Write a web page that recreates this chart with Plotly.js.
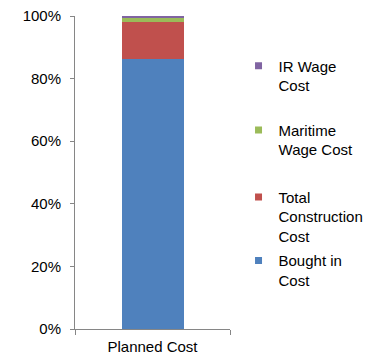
<!DOCTYPE html>
<html>
<head>
<meta charset="utf-8">
<script src="https://cdn.plot.ly/plotly-3.0.1.min.js"></script>
<style>
  html, body { margin: 0; padding: 0; background: #fff; }
  #chart { width: 381px; height: 358px; }
</style>
</head>
<body>
<div id="chart"></div>
<script>
// Share of planned cost by component (stacked to 100%)
const categories = ["Planned Cost"];
const seriesNames = ["Bought in<br>Cost", "Total<br>Construction<br>Cost", "Maritime<br>Wage Cost", "IR Wage<br>Cost"];
const boughtIn = [0.862];
const construction = [0.120];
const maritimeWage = [0.012];
const irWage = [0.006];
const seriesValues = [boughtIn, construction, maritimeWage, irWage];
const seriesColors = ["#4F81BD", "#C0504D", "#9BBB59", "#8064A2"];
const yTickValues = [0, 0.2, 0.4, 0.6, 0.8, 1.0];
const yTickLabels = ["0%", "20%", "40%", "60%", "80%", "100%"];

// each legend entry sits in its own box so the entries can be spread down the right side
const legendIds = ["legend", "legend2", "legend3", "legend4"];
const legendTops = [0.271, 0.474, 0.688, 0.893];

const traces = [];
seriesValues.forEach((vals, i) => {
  traces.push({
    type: "bar",
    x: categories,
    y: vals,
    name: seriesNames[i],
    legendgroup: "g" + i,
    showlegend: false,
    marker: { color: seriesColors[i], line: { width: 0 } },
    hoverinfo: "skip"
  });
  traces.push({
    type: "scatter",
    mode: "markers",
    x: [null],
    y: [null],
    name: seriesNames[i],
    legendgroup: "g" + i,
    legend: legendIds[i],
    showlegend: true,
    marker: { symbol: "square", size: 7, color: seriesColors[i] }
  });
});

const legendFont = { family: "Liberation Sans, Arial, sans-serif", size: 15, color: "#000" };
const layout = {
  width: 381,
  height: 358,
  margin: { l: 75, r: 147, t: 16, b: 29 },
  paper_bgcolor: "#fff",
  plot_bgcolor: "#fff",
  barmode: "stack",
  bargap: 0.6,
  font: { family: "Liberation Sans, Arial, sans-serif", size: 15, color: "#000" },
  xaxis: {
    type: "category",
    showline: true,
    linecolor: "#868686",
    linewidth: 1,
    ticks: "outside",
    tickson: "boundaries",
    ticklen: 5,
    tickcolor: "#868686",
    ticklabelstandoff: 4,
    showgrid: false,
    zeroline: false,
    fixedrange: true
  },
  yaxis: {
    range: [0, 1],
    tickvals: yTickValues,
    ticktext: yTickLabels,
    showline: true,
    linecolor: "#868686",
    linewidth: 1,
    ticks: "outside",
    ticklen: 4,
    tickcolor: "#868686",
    ticklabelstandoff: 6,
    showgrid: false,
    zeroline: false,
    fixedrange: true
  },
  showlegend: true
};
legendIds.forEach((id, i) => {
  layout[id] = {
    x: 1.055,
    xanchor: "left",
    y: legendTops[i],
    yanchor: "top",
    valign: "top",
    font: legendFont,
    bgcolor: "rgba(0,0,0,0)",
    borderwidth: 0,
    itemclick: false,
    itemdoubleclick: false
  };
});

Plotly.newPlot("chart", traces, layout, { displayModeBar: false, staticPlot: true });
</script>
</body>
</html>
